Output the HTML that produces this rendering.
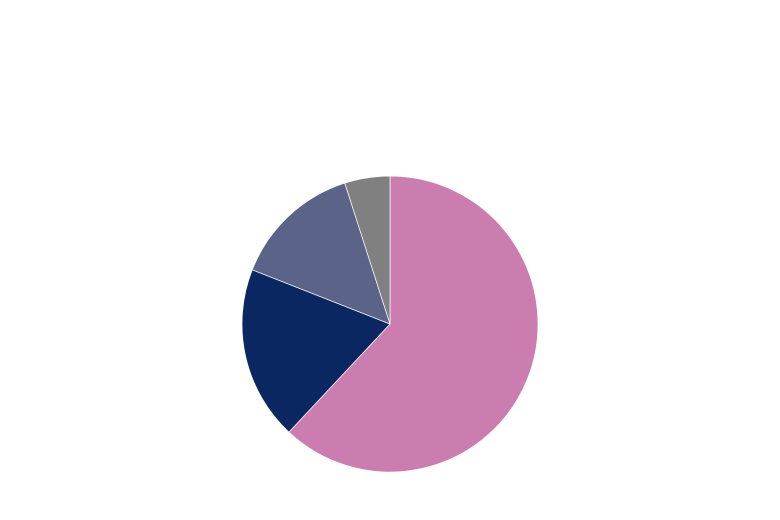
<!DOCTYPE html>
<html>
<head>
<meta charset="utf-8">
<style>
html,body{margin:0;padding:0;background:#fff;}
svg{display:block;}
</style>
</head>
<body>
<svg width="780" height="520" viewBox="0 0 780 520" xmlns="http://www.w3.org/2000/svg">
<rect width="780" height="520" fill="#ffffff"/>
<g stroke="#ffffff" stroke-width="0.7" stroke-linejoin="round">
<path d="M390,324 L390,176 A148,148 0 1,1 288.9,432.1 Z" fill="#CC7DAF"/>
<path d="M390,324 L288.9,432.1 A148,148 0 0,1 252.3,269.8 Z" fill="#0B2762"/>
<path d="M390,324 L252.3,269.8 A148,148 0 0,1 344.8,183.1 Z" fill="#5B6488"/>
<path d="M390,324 L344.8,183.1 A148,148 0 0,1 390,176 Z" fill="#808080"/>
</g>
</svg>
</body>
</html>
